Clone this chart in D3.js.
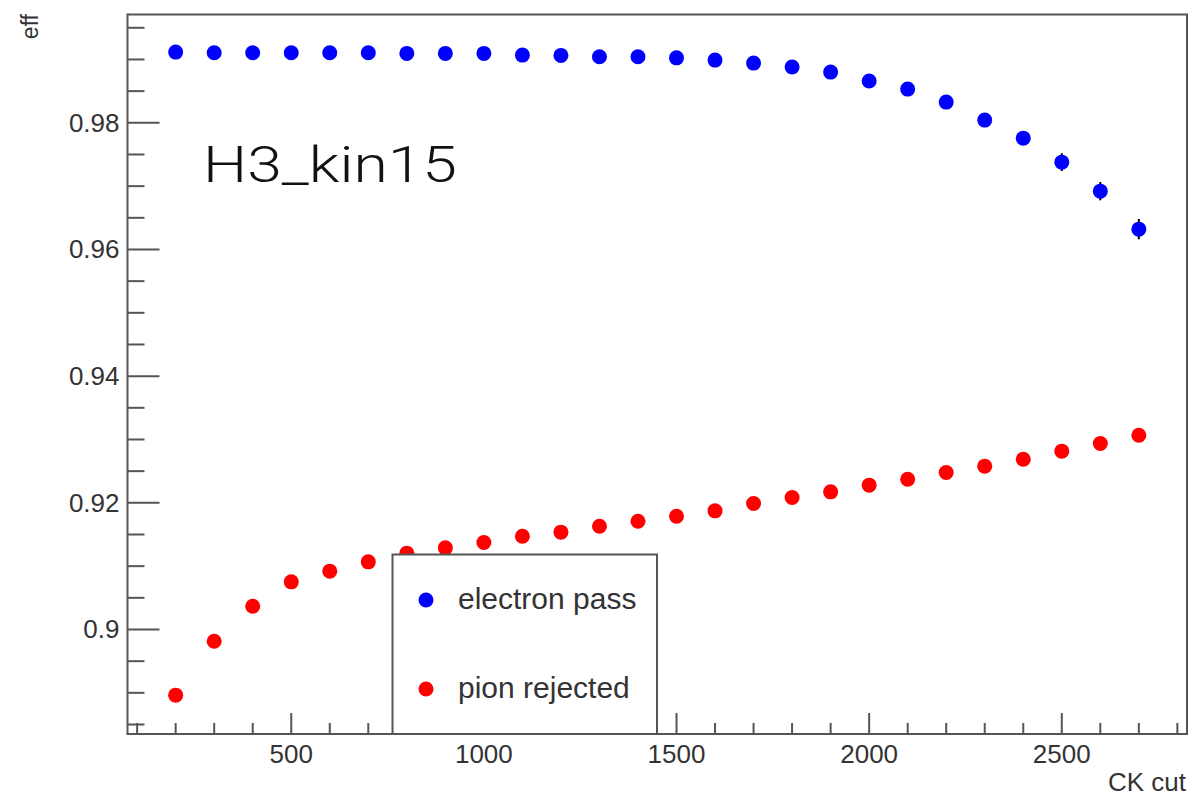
<!DOCTYPE html>
<html>
<head>
<meta charset="utf-8">
<script src="https://cdn.jsdelivr.net/npm/d3@7"></script>
<style>
  body { margin: 0; background: #fff; }
  svg { display: block; font-family: "Liberation Sans", Arial, Helvetica, sans-serif; }
</style>
</head>
<body>
<svg id="chart" width="1193" height="799"></svg>
<script>
// CK cut values
const cuts = [200, 300, 400, 500, 600, 700, 800, 900, 1000, 1100, 1200, 1300, 1400,
  1500, 1600, 1700, 1800, 1900, 2000, 2100, 2200, 2300, 2400, 2500, 2600, 2700];

// electron pass efficiency
const electronPass = [0.99116, 0.99105, 0.99105, 0.99105, 0.99105, 0.99105, 0.99096, 0.99096,
  0.99096, 0.99069, 0.99064, 0.99042, 0.99042, 0.99026, 0.98990, 0.98943, 0.98880, 0.98801,
  0.98659, 0.98532, 0.98327, 0.98043, 0.97758, 0.97379, 0.96921, 0.96321];
const electronErr = [0.0002, 0.0002, 0.0002, 0.0002, 0.0002, 0.0002, 0.0002, 0.0002,
  0.0002, 0.0002, 0.0003, 0.0003, 0.0003, 0.0003, 0.0003, 0.0004, 0.0004, 0.0005,
  0.0005, 0.0006, 0.0007, 0.0008, 0.0010, 0.0014, 0.00145, 0.0016];

// pion rejection
const pionRejected = [0.88963, 0.89815, 0.90368, 0.90752, 0.90921, 0.91068, 0.91205, 0.91289,
  0.91374, 0.91473, 0.91537, 0.91631, 0.91710, 0.91789, 0.91873, 0.91990, 0.92084, 0.92173,
  0.92279, 0.92373, 0.92479, 0.92579, 0.92689, 0.92816, 0.92937, 0.93068];
const pionErr = [0.0005, 0.0005, 0.0005, 0.0005, 0.0005, 0.0005, 0.0005, 0.0005,
  0.0005, 0.0005, 0.0005, 0.0005, 0.0005, 0.0005, 0.0005, 0.0005, 0.0005, 0.0005,
  0.0005, 0.0005, 0.0005, 0.0005, 0.0005, 0.0005, 0.0005, 0.0005];

const xTickValues = [500, 1000, 1500, 2000, 2500];
const yTickValues = [0.9, 0.92, 0.94, 0.96, 0.98];
const yTickLabels = ["0.9", "0.92", "0.94", "0.96", "0.98"];

const seriesNames = ["electron pass", "pion rejected"];
const seriesColors = ["#0000ff", "#ff0000"];

const svg = d3.select("#chart");
const margin = { left: 127.5, top: 14.5, right: 6, bottom: 65 };
const width = +svg.attr("width");
const height = +svg.attr("height");
const x0 = margin.left, x1 = width - margin.right;
const y0 = height - margin.bottom, y1 = margin.top;

const x = d3.scaleLinear().domain([75, 2825]).range([x0, x1]);
const y = d3.scaleLinear().domain([0.8835, 0.9971]).range([y0, y1]);

const axisColor = "#555";
const textColor = "#333";

// frame
svg.append("rect")
  .attr("x", x0).attr("y", y1)
  .attr("width", x1 - x0).attr("height", y0 - y1)
  .attr("fill", "none").attr("stroke", axisColor).attr("stroke-width", 2);

// x ticks
const xMinor = d3.range(100, 2801, 100);
svg.append("g").selectAll("line").data(xMinor).join("line")
  .attr("x1", (d) => x(d)).attr("x2", (d) => x(d))
  .attr("y1", y0)
  .attr("y2", (d) => y0 - (d % 500 === 0 ? 21 : 11))
  .attr("stroke", axisColor).attr("stroke-width", 2);

svg.append("g").selectAll("text").data(xTickValues).join("text")
  .attr("x", (d) => x(d)).attr("y", y0 + 29)
  .attr("text-anchor", "middle")
  .attr("font-size", 26).attr("fill", textColor)
  .text((d) => d);

// y ticks
const yMinor = d3.range(0.885, 0.996, 0.005);
svg.append("g").selectAll("line").data(yMinor).join("line")
  .attr("x1", x0)
  .attr("x2", (d) => x0 + (Math.round(d * 1000) % 20 === 0 ? 32 : 17))
  .attr("y1", (d) => y(d)).attr("y2", (d) => y(d))
  .attr("stroke", axisColor).attr("stroke-width", 2);

svg.append("g").selectAll("text").data(yTickValues).join("text")
  .attr("x", x0 - 8).attr("y", (d) => y(d) + 9)
  .attr("text-anchor", "end")
  .attr("font-size", 26).attr("fill", textColor)
  .text((d, i) => yTickLabels[i]);

// axis titles
svg.append("text")
  .attr("transform", "translate(38,14) rotate(-90)")
  .attr("text-anchor", "end")
  .attr("font-size", 23).attr("fill", textColor)
  .text("eff");

svg.append("text")
  .attr("x", x1 - 1).attr("y", 791)
  .attr("text-anchor", "end")
  .attr("font-size", 26).attr("fill", textColor)
  .text("CK cut");

// data series
const series = [
  { name: seriesNames[0], color: seriesColors[0], vals: electronPass, errs: electronErr },
  { name: seriesNames[1], color: seriesColors[1], vals: pionRejected, errs: pionErr },
];

series.forEach((s) => {
  const pts = cuts.map((c, i) => ({ c, v: s.vals[i], e: s.errs[i] }));
  const g = svg.append("g");
  g.selectAll("line").data(pts).join("line")
    .attr("x1", (d) => x(d.c)).attr("x2", (d) => x(d.c))
    .attr("y1", (d) => y(d.v - d.e)).attr("y2", (d) => y(d.v + d.e))
    .attr("stroke", "#000").attr("stroke-width", 2);
  g.selectAll("circle").data(pts).join("circle")
    .attr("cx", (d) => x(d.c)).attr("cy", (d) => y(d.v))
    .attr("r", 7.5)
    .attr("fill", s.color);
});

// legend box (drawn over the points, like ROOT)
const leg = svg.append("g");
leg.append("rect")
  .attr("x", 392.5).attr("y", 554.5)
  .attr("width", 264.5).attr("height", y0 - 554.5)
  .attr("fill", "#fff").attr("stroke", axisColor).attr("stroke-width", 2);

const legRows = [600, 689];
series.forEach((s, i) => {
  leg.append("circle")
    .attr("cx", 426).attr("cy", legRows[i]).attr("r", 7.5)
    .attr("fill", s.color);
  leg.append("text")
    .attr("x", 458).attr("y", legRows[i] + 9)
    .attr("font-size", 30).attr("fill", textColor)
    .text(s.name);
});

// label
svg.append("text")
  .attr("x", 203).attr("y", 182)
  .attr("font-family", "Roboto, 'Open Sans', sans-serif")
  .attr("font-weight", 300)
  .attr("font-size", 50)
  .attr("textLength", 254)
  .attr("lengthAdjust", "spacingAndGlyphs")
  .attr("fill", "#111")
  .text("H3_kin15");
</script>
</body>
</html>
